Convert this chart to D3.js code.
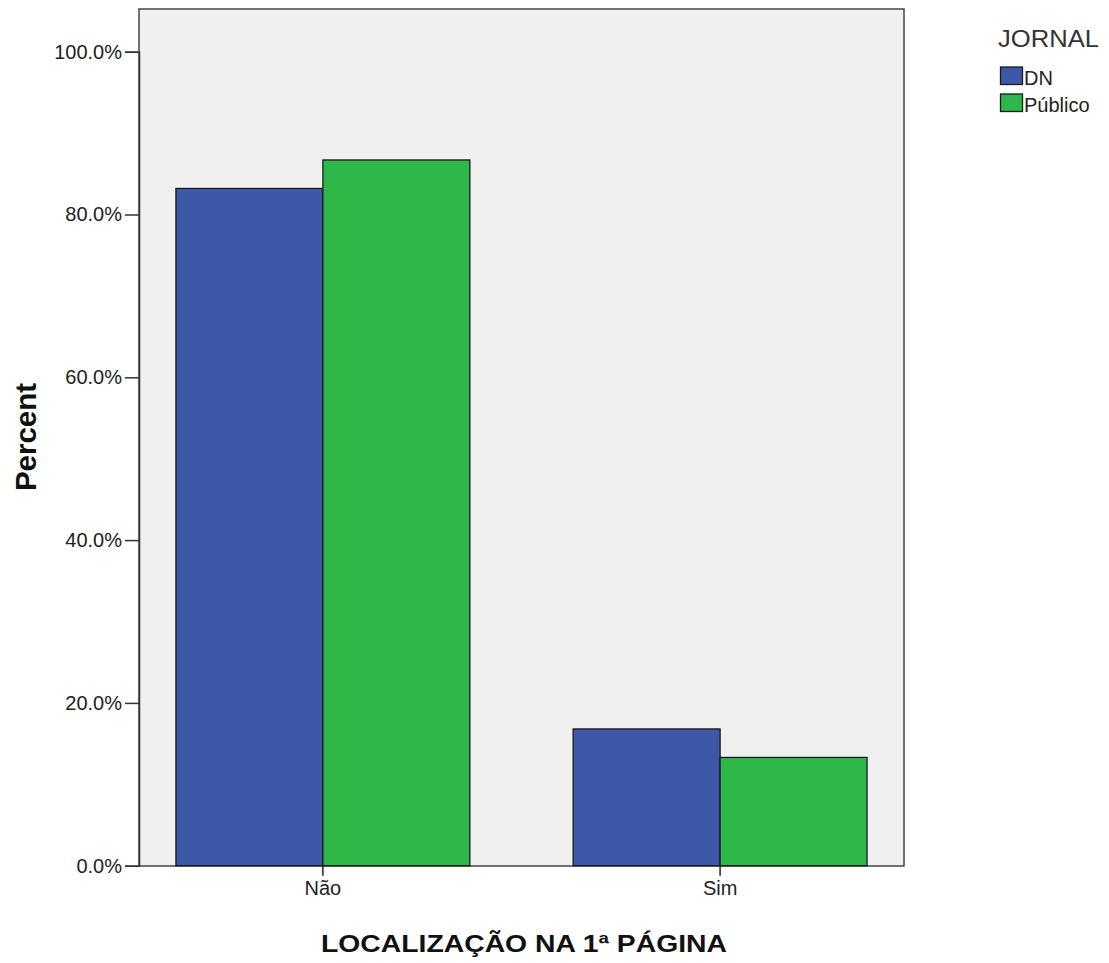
<!DOCTYPE html>
<html><head><meta charset="utf-8">
<script src="https://cdn.jsdelivr.net/npm/d3@7"></script>
<style>body{margin:0;background:#fff;} svg{display:block;font-family:Arial,"Liberation Sans",sans-serif;}</style>
</head><body>
<script>
const categories = ["Não", "Sim"];
const seriesNames = ["DN", "Público"];
const dnValues = [83.2, 16.8];
const publicoValues = [86.7, 13.3];
const yTicks = [0, 20, 40, 60, 80, 100];
const colors = ["#3e58a8", "#2fb84a"];

(function () {
const W = 1109, H = 963;
const FONT = "Arial, 'Liberation Sans', sans-serif";
const svg = d3.select("body").append("svg").attr("width", W).attr("height", H);
const pLeft = 139, pRight = 904, pTop = 9, pBottom = 866;

const y = d3.scaleLinear().domain([0, 100]).range([865.7, 51.7]);
const x = d3.scaleBand().domain(categories).range([pLeft, pRight]).paddingInner(0.26).paddingOuter(0.093);
const xs = d3.scaleBand().domain(seriesNames).range([0, x.bandwidth()]);

svg.append("rect").attr("x", pLeft).attr("y", pTop).attr("width", pRight - pLeft).attr("height", pBottom - pTop)
  .attr("fill", "#f0f0f0").attr("stroke", "#444").attr("stroke-width", 1.5);

const data = categories.map((c, i) => ({c, vals: [dnValues[i], publicoValues[i]]}));
const g = svg.append("g");
data.forEach(d => {
  d.vals.forEach((v, j) => {
    g.append("rect")
      .attr("x", x(d.c) + xs(seriesNames[j]))
      .attr("y", y(v))
      .attr("width", xs.bandwidth())
      .attr("height", y(0) - y(v))
      .attr("fill", colors[j])
      .attr("stroke", "#1a1a1a").attr("stroke-width", 1.3);
  });
});

const yAxis = d3.axisLeft(y).tickValues(yTicks).tickSize(14).tickPadding(3).tickFormat(d => d.toFixed(1) + "%");
const ya = svg.append("g").attr("transform", `translate(${pLeft},0)`).call(yAxis);
ya.select(".domain").attr("stroke", "#333").attr("stroke-width", 1.5);
ya.selectAll(".tick line").attr("stroke", "#333").attr("stroke-width", 1.5);
ya.selectAll("text").attr("font-size", 20).attr("fill", "#222").attr("font-family", FONT);

const xAxis = d3.axisBottom(x).tickSize(10).tickPadding(5);
const xa = svg.append("g").attr("transform", `translate(0,${y(0)})`).call(xAxis);
xa.select(".domain").remove();
xa.selectAll(".tick line").attr("stroke", "#222").attr("stroke-width", 1.5);
xa.selectAll("text").attr("font-size", 20).attr("fill", "#222").attr("font-family", FONT);

svg.append("text").attr("transform", "translate(36,437) rotate(-90)").attr("text-anchor", "middle")
  .attr("font-size", 29.5).attr("font-weight", "bold").attr("fill", "#111").text("Percent");
svg.append("text").attr("x", 524).attr("y", 952).attr("text-anchor", "middle")
  .attr("font-size", 24.5).attr("font-weight", "bold").attr("fill", "#111")
  .attr("textLength", 406).attr("lengthAdjust", "spacingAndGlyphs").text("LOCALIZAÇÃO NA 1ª PÁGINA");

svg.append("text").attr("x", 998).attr("y", 46.5).attr("font-size", 23.5).attr("fill", "#333")
  .attr("textLength", 101).attr("lengthAdjust", "spacingAndGlyphs").text("JORNAL");
seriesNames.forEach((s, j) => {
  const yy = 67 + j * 27;
  svg.append("rect").attr("x", 1000.5).attr("y", yy).attr("width", 22).attr("height", 17.5)
    .attr("fill", colors[j]).attr("stroke", "#1a1a1a").attr("stroke-width", 1.3);
  svg.append("text").attr("x", 1024).attr("y", yy + 17.5).attr("font-size", 20).attr("fill", "#222").text(s);
});
})();
</script>
</body></html>
